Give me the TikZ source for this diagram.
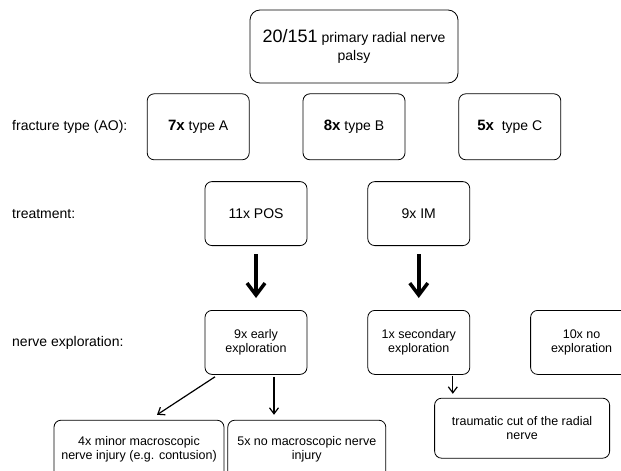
\documentclass[tikz,border=0pt]{standalone}
\usepackage{fontspec}
\setmainfont{Liberation Sans}
\usepackage{tikz}
\usetikzlibrary{positioning}
\usetikzlibrary{arrows.meta}
\newcommand{\boxfont}{\fontsize{12.5}{14}\selectfont}
\newcommand{\labelfont}{\fontsize{14}{16}\selectfont}
\newcommand{\nbold}[1]{{\fontsize{15}{17}\selectfont\bfseries #1}}
\tikzstyle{flow box}=[draw, rounded corners=7pt, line width=0.8pt, align=center, inner sep=0pt, minimum width=102pt, minimum height=64pt, font=\boxfont]
\tikzstyle{side label}=[anchor=west, inner sep=0pt, font=\labelfont]
\tikzstyle{thick arrow}=[-{Straight Barb[length=12pt,width=18pt]}, line width=3.5pt]
\tikzstyle{thin arrow}=[-{Straight Barb[length=6pt,width=9pt]}, line width=1.2pt]
\newcommand{\flownode}[3][]{
  \node [flow box, #1] (#2) {#3}
}
\begin{document}
\begin{tikzpicture}[x=1pt,y=-1pt]
  \useasboundingbox (0,0) rectangle (621,471);
  \clip (0,0) rectangle (621,471);
  \flownode[at={(354,46.5)}, minimum width=208pt, minimum height=73pt, rounded corners=10pt, font=\labelfont]{top}{{\fontsize{18}{21}\selectfont 20/151} primary radial nerve\\[2pt]palsy};
  \flownode[below=10pt of top, minimum height=66pt, font=\labelfont]{typeB}{\nbold{8x} type B};
  \flownode[left=53pt of typeB, minimum height=66pt, font=\labelfont]{typeA}{\nbold{7x} type A};
  \flownode[right=53pt of typeB, minimum height=66pt, font=\labelfont]{typeC}{\nbold{5x}\ \ type C};
  \flownode[below=21pt of typeB, xshift=-98pt, font=\labelfont]{pos}{11x POS};
  \flownode[right=60pt of pos, font=\labelfont]{im}{9x IM};
  \flownode[below=64pt of pos]{early}{9x early\\exploration};
  \flownode[below=64pt of im]{second}{1x secondary\\exploration};
  \flownode[right=60pt of second]{noexp}{10x no\\exploration};
  \flownode[below right=45pt and -80pt of early, minimum width=158pt, minimum height=58pt]{nomacro}{5x no macroscopic nerve\\injury};
  \flownode[left=3pt of nomacro, minimum width=170pt, minimum height=58pt]{minor}{4x minor macroscopic\\nerve injury (e.g. contusion)};
  \flownode[below right=23pt and -36pt of second, minimum width=175pt, minimum height=60pt]{cut}{traumatic cut of the radial\\nerve};

  \coordinate (margin) at (12,0);
  \node[side label] (lfrac) at (typeA.west -| margin) {fracture type (AO):};
  \node[side label] (ltreat) at (pos.west -| margin) {treatment:};
  \node[side label] (lexpl) at (early.west -| margin) {nerve exploration:};

  \draw[thick arrow, shorten <=8pt, shorten >=12pt] (pos) -- (early);
  \draw[thick arrow, shorten <=8pt, shorten >=12pt] (im) -- (second);
  \draw[thin arrow] ([xshift=-41pt,yshift=-2pt]early.south) -- ([xshift=18pt,yshift=5pt]minor.north);
  \coordinate (e1) at ([xshift=18pt]early.south);
  \coordinate (s1) at ([xshift=34pt]second.south);
  \draw[thin arrow, shorten <=2pt, shorten >=5pt] (e1) -- (e1 |- nomacro.north);
  \draw[thin arrow, shorten <=1pt, shorten >=4pt] (s1) -- (s1 |- cut.north);
\end{tikzpicture}
\end{document}
